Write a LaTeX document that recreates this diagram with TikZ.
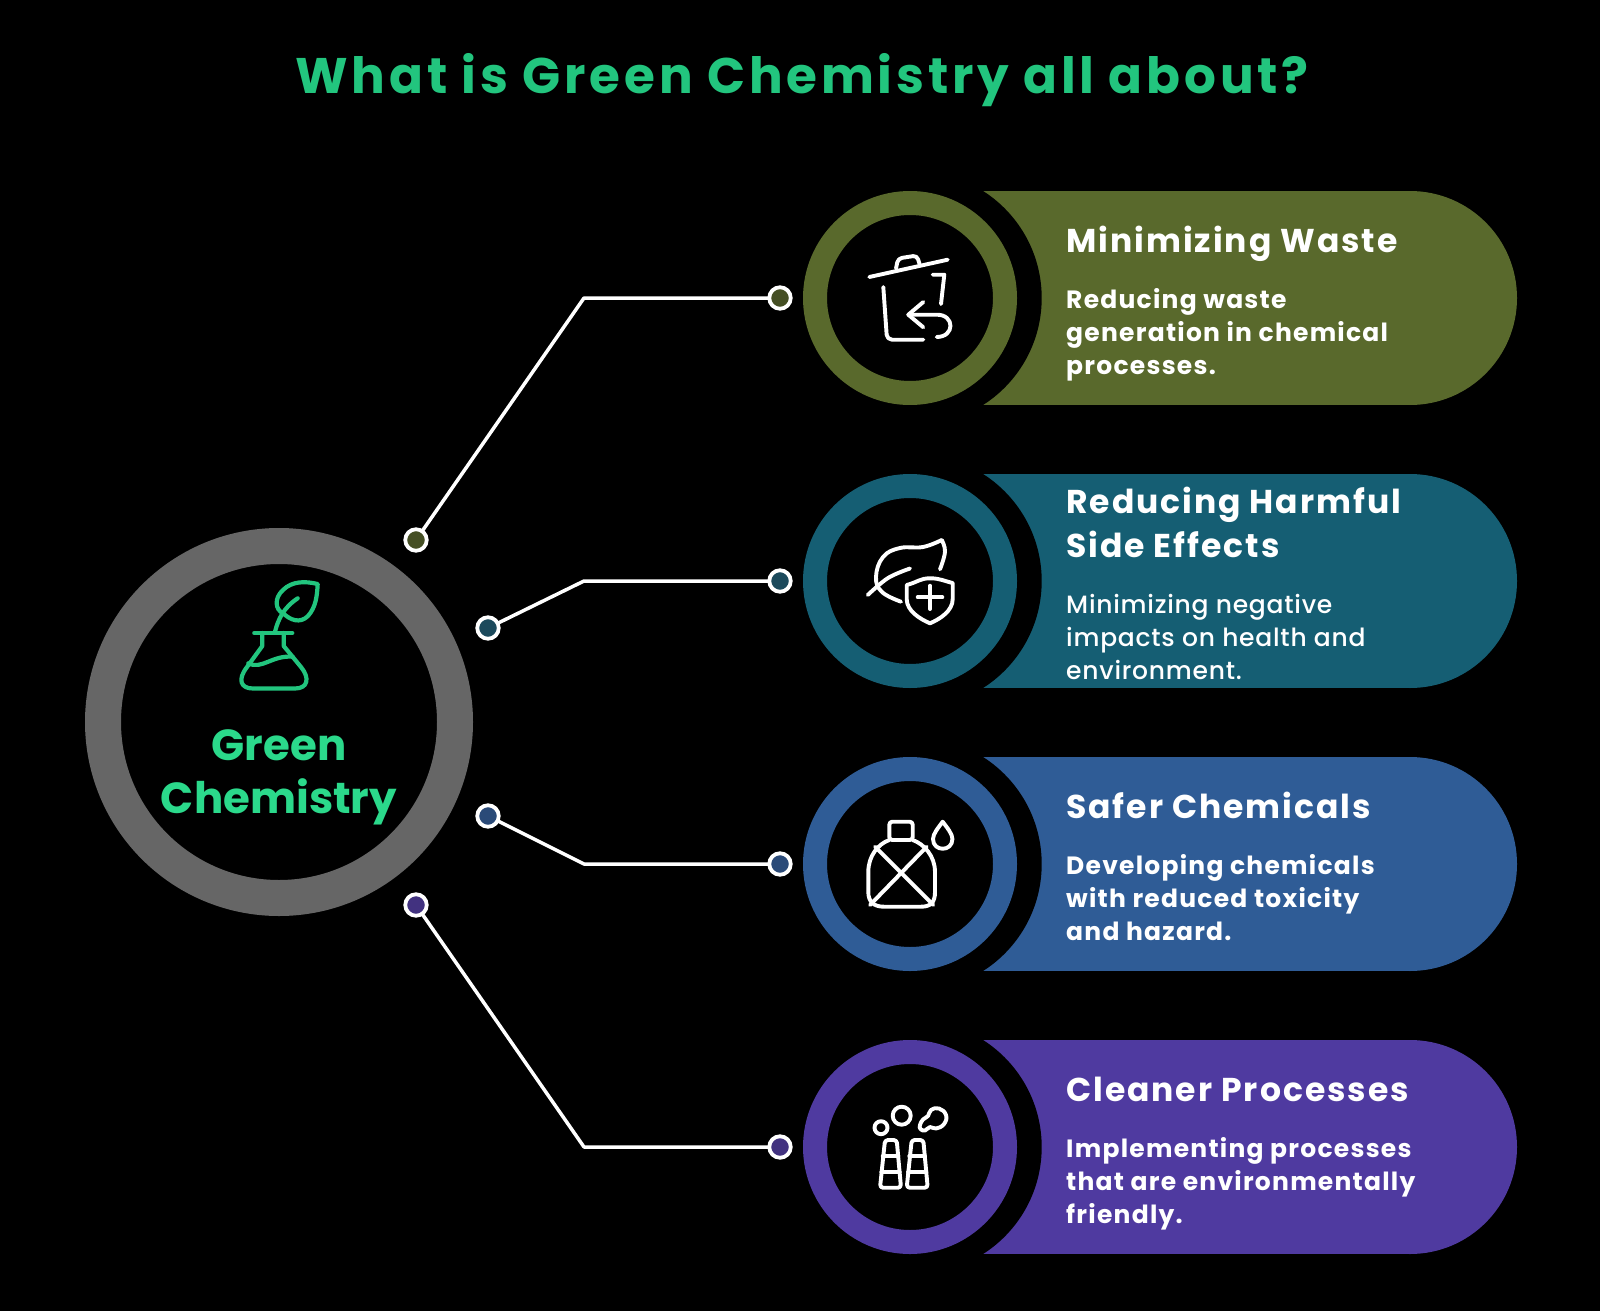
\documentclass[tikz,border=0pt]{standalone}
\usepackage{fontspec}
\setmainfont{Poppins}
\newfontfamily\headfont{Poppins}[LetterSpace=7.6]
\newfontfamily\ttlfont{Poppins}[LetterSpace=6]
\newfontfamily\dscfont{Poppins}[LetterSpace=5]
\newfontfamily\medfont{Poppins Medium}[LetterSpace=3]
\usetikzlibrary{positioning}
\definecolor{titlecol}{HTML}{22C57E}
\definecolor{hubcol}{HTML}{2BD98B}
\definecolor{graycol}{HTML}{666666}
\definecolor{olivecol}{HTML}{59692C}
\definecolor{tealcol}{HTML}{155E73}
\definecolor{bluecol}{HTML}{2F5C96}
\definecolor{purplecol}{HTML}{4F3AA0}
\definecolor{olivedot}{HTML}{454F24}
\definecolor{tealdot}{HTML}{1C4A5C}
\definecolor{bluedot}{HTML}{2A4A78}
\definecolor{purpledot}{HTML}{423280}
\newcommand{\pillfill}[1]{%
  \fill[#1] (73,-107) rectangle (500,107);
  \fill[#1] (500,0) circle (107pt);
  \fill[black] (4.8,0) circle (126.9pt);}
\newcommand{\binicon}{%
  \draw[ico] (-40.7,-21) -- (37.7,-38.3);
  \draw[ico, rounded corners=4pt] (-14,-29.5) -- (-12,-39.5) -- (7,-42.5) -- (9.5,-34);
  \draw[ico, rounded corners=5pt] (-26.7,-11) -- (-23,41.7) -- (13.3,41.7);
  \draw[ico] (22.7,-23.3) -- (34.3,-23.3) -- (31,6);
  \draw[ico] (13.3,4) -- (-1.7,16.7) -- (13.3,29.3);
  \draw[ico] (-1.7,16.7) -- (27,16.7) .. controls (45,16.7) and (45,39) .. (26.7,39);}
\newcommand{\leaficon}{%
  \draw[ico] plot[smooth, tension=0.7] coordinates
    {(-9,20.7) (-28,11) (-34,-4) (-27,-24) (-10,-33) (13,-34) (31.7,-41)};
  \draw[ico] plot[smooth, tension=0.7] coordinates {(31.7,-41) (35,-29.3) (30,-11.7)};
  \draw[ico] plot[smooth, tension=0.6] coordinates {(-42.3,14) (-22,-3) (0,-12.5)};
  \draw[ico] (-3.3,4) .. controls (8,1) and (10,-2.7) .. (20,-2.7)
    .. controls (30,-2.7) and (34,0) .. (42.7,2) -- (42.7,18)
    .. controls (42.7,30) and (30,38) .. (20,42.3)
    .. controls (10,38) and (-3.3,30) .. (-3.3,18) -- cycle;
  \draw[ico] (7.7,16.3) -- (32.3,16.3);
  \draw[ico] (20,4.7) -- (20,28);}
\newcommand{\bottleicon}{%
  \draw[ico, rounded corners=3pt] (-20.7,-24) -- (-20.7,-42.3) -- (2.7,-42.3) -- (2.7,-24) -- cycle;
  \draw[ico] (-20.7,-24) .. controls (-32,-20) and (-41.7,-8) .. (-41.7,8) -- (-41.7,28)
    .. controls (-41.7,38) and (-36,42.7) .. (-26,42.7) -- (11,42.7)
    .. controls (21,42.7) and (25,38) .. (25,28) -- (25,8)
    .. controls (25,-8) and (14,-20) .. (2.7,-24);
  \draw[ico] (-35,-17.3) -- (23.3,41);
  \draw[ico] (16.7,-17.3) -- (-40,41);
  \draw[ico] (32.7,-42.3) .. controls (28,-36) and (23,-30) .. (23,-25)
    .. controls (23,-12) and (42.4,-12) .. (42.4,-25)
    .. controls (42.4,-30) and (37.4,-36) .. (32.7,-42.3) -- cycle;}
\newcommand{\stackicon}{%
  \draw[ico, rounded corners=3pt] (-30,40.7) -- (-25,-7) -- (-13.3,-7) -- (-9,40.7) -- cycle;
  \draw[ico, rounded corners=3pt] (-3.3,40.7) -- (1.7,-7) -- (13.3,-7) -- (17.7,40.7) -- cycle;
  \draw[ico] (-27.3,9.3) -- (-11.7,9.3);
  \draw[ico] (-28.7,25) -- (-10.3,25);
  \draw[ico] (-0.7,9.3) -- (15,9.3);
  \draw[ico] (-2,25) -- (16.3,25);
  \draw[ico] (-29,-19.3) circle (6.5pt);
  \draw[ico] (-8.3,-31.3) circle (9pt);
  \draw[ico] plot[smooth cycle, tension=0.8] coordinates
    {(10,-22) (13,-27.5) (18,-31) (21,-37) (29,-38.5) (36,-32) (34,-23)
     (26,-18.5) (20,-20) (15,-16.5) (10.5,-18)};}

\begin{document}
\begin{tikzpicture}[
  x=1pt, y=-1pt, line cap=round, line join=round,
  ico/.style={white, line width=3.9pt},
  flask/.style={titlecol, line width=4.2pt},
  wire/.style={white, line width=3.5pt},
  ring/.style={circle, line width=24pt, minimum size=190pt, inner sep=0pt, outer sep=0pt},
  dotnode/.style={circle, draw=white, line width=3.8pt, minimum size=21.5pt, inner sep=0pt, outer sep=0pt},
  ttl/.style={font=\ttlfont\fontsize{33}{44}\selectfont\bfseries, text=white, anchor=base west, align=left, inner sep=0pt},
  dsc/.style={font=\dscfont\fontsize{25}{32.6}\selectfont\bfseries, text=white, anchor=base west, align=left, inner sep=0pt}]

\useasboundingbox (0,0) rectangle (1600,1311);
\fill[black] (0,0) rectangle (1600,1311);

\node[font=\headfont\fontsize{50}{60}\selectfont\bfseries, text=titlecol, anchor=base, inner sep=0pt] (heading) at (802,94)
  {What is Green Chemistry all about?};

% ============================================== left: the hub
\node[circle, draw=graycol, line width=36pt, minimum size=352pt, inner sep=0pt, outer sep=0pt] (hub) at (279,722) {};
\node[font=\fontsize{43.5}{53}\selectfont\bfseries, text=hubcol, anchor=base, align=center, inner sep=0pt] (hublabel) at (279,813)
  {Green\\Chemistry};

% the flask with its leaf
\draw[flask] (254.3,633) -- (292.3,633);
\draw[flask] (262.3,633) -- (262.3,646) -- (247,667) .. controls (237,680) and (241,688.5) .. (253,688.5)
  -- (295,688.5) .. controls (308,688.5) and (310,678) .. (301,667) -- (283.7,646) -- (283.7,633);
\draw[flask] (248.3,663.3) .. controls (262,670) and (272,655) .. (292.7,656.7);
\draw[flask] (275,631.7) .. controls (278,620) and (283,608) .. (297.7,598.3);
\draw[flask] (317.7,584) .. controls (305,581) and (292,581) .. (283,590)
  .. controls (274,598) and (275,610) .. (283.3,613.3)
  .. controls (290,620) and (300,624) .. (308,616)
  .. controls (316,607) and (317,596) .. (317.7,584) -- cycle;

% ============================================== right: the four bands
\begin{scope}[shift={(910,298)}]
  \pillfill{olivecol}
  \binicon
\end{scope}
\node[ring, draw=olivecol] (wastering) at (910,298) {};
\node[ttl] (wastettl) at (1066,252) {Minimizing Waste};
\node[dsc] (wastetxt) at (1066,374) {Reducing waste\\generation in chemical\\processes.};

\begin{scope}[shift={(910,581)}]
  \pillfill{tealcol}
  \leaficon
\end{scope}
\node[ring, draw=tealcol] (harmring) at (910,581) {};
\node[ttl] (harmttl) at (1066,557.3) {Reducing Harmful\\Side Effects};
\node[dsc, font=\medfont\fontsize{25}{32.6}\selectfont] (harmtxt) at (1066,679) {Minimizing negative\\impacts on health and\\environment.};

\begin{scope}[shift={(910,864)}]
  \pillfill{bluecol}
  \bottleicon
\end{scope}
\node[ring, draw=bluecol] (saferring) at (910,864) {};
\node[ttl] (saferttl) at (1066,818) {Safer Chemicals};
\node[dsc] (safertxt) at (1066,940) {Developing chemicals\\with reduced toxicity\\and hazard.};

\begin{scope}[shift={(910,1147)}]
  \pillfill{purplecol}
  \stackicon
\end{scope}
\node[ring, draw=purplecol] (cleanring) at (910,1147) {};
\node[ttl] (cleanttl) at (1066,1101) {Cleaner Processes};
\node[dsc] (cleantxt) at (1066,1223) {Implementing processes\\that are environmentally\\friendly.};

% ---------------------------------------------------------------- connectors
\node[dotnode, fill=olivedot] (hubdota) at (416,540) {};
\node[dotnode, fill=tealdot] (hubdotb) at (488,628) {};
\node[dotnode, fill=bluedot] (hubdotc) at (488,816) {};
\node[dotnode, fill=purpledot] (hubdotd) at (416,905) {};
\node[dotnode, fill=olivedot] (wastedot) at (780,298) {};
\node[dotnode, fill=tealdot] (harmdot) at (780,581) {};
\node[dotnode, fill=bluedot] (saferdot) at (780,864) {};
\node[dotnode, fill=purpledot] (cleandot) at (780,1147) {};
\coordinate (benda) at (584,298);
\coordinate (bendb) at (584,581);
\coordinate (bendc) at (584,864);
\coordinate (bendd) at (584,1147);
\draw[wire] (hubdota) -- (benda) -- (wastedot);
\draw[wire] (hubdotb) -- (bendb) -- (harmdot);
\draw[wire] (hubdotc) -- (bendc) -- (saferdot);
\draw[wire] (hubdotd) -- (bendd) -- (cleandot);

\end{tikzpicture}
\end{document}
